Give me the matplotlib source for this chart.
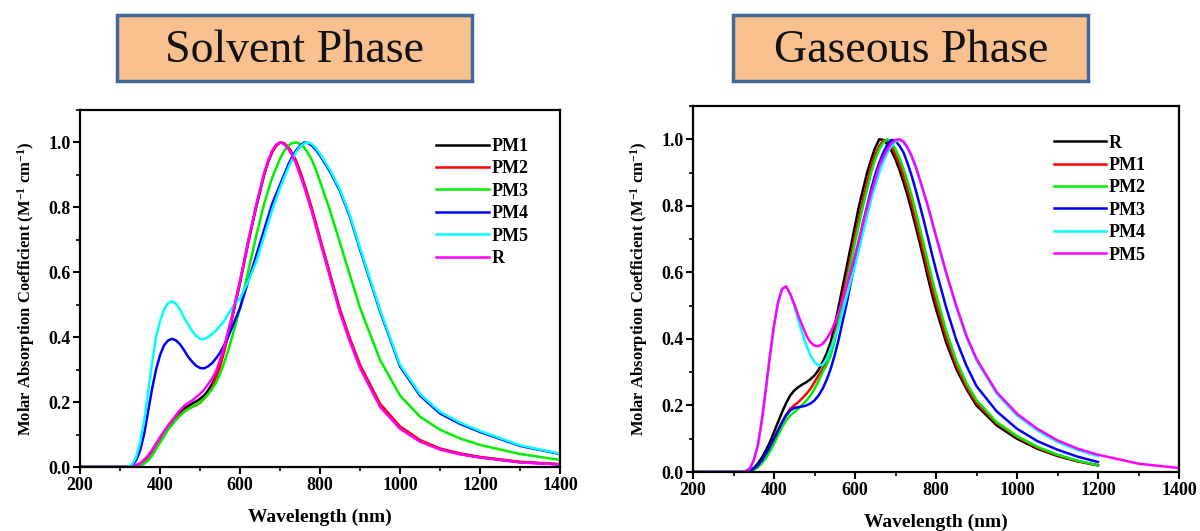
import matplotlib.pyplot as plt
from matplotlib.patches import Rectangle
from matplotlib.ticker import MultipleLocator

plt.rcParams["font.family"] = ["Liberation Serif", "DejaVu Serif"]
plt.rcParams["font.weight"] = "bold"
plt.rcParams["mathtext.fontset"] = "custom"
plt.rcParams["mathtext.rm"] = "Liberation Serif:bold"
plt.rcParams["mathtext.bf"] = "Liberation Serif:bold"
plt.rcParams["mathtext.default"] = "bf"

# wavelength grid (nm)
wl = [200, 300,
      320, 330, 340, 350, 360, 370, 380, 390, 400,
      410, 420, 430, 440, 450, 460, 470, 480, 490, 500,
      510, 520, 530, 540, 550, 560, 570, 580, 590, 600,
      610, 620, 630, 640, 650, 660, 670, 680, 690, 700,
      710, 720, 730, 740, 750, 760, 770, 780, 790, 800,
      825, 850, 875, 900, 950, 1000, 1050, 1100, 1150, 1200,
      1300, 1400]
wl_gas = wl[:-2]   # gaseous curves stop at 1200 nm (except PM5)

# ---- solvent phase ----
sol_pm1 = [0, 0,
           0, 0, 0.005, 0.01, 0.02, 0.033, 0.05, 0.07, 0.09,
           0.108, 0.125, 0.14, 0.155, 0.168, 0.18, 0.188, 0.195, 0.202, 0.21,
           0.22, 0.235, 0.255, 0.28, 0.315, 0.36, 0.41, 0.46, 0.515, 0.57,
           0.63, 0.69, 0.745, 0.80, 0.85, 0.90, 0.94, 0.97, 0.99, 1.0,
           0.997, 0.985, 0.965, 0.94, 0.907, 0.87, 0.83, 0.79, 0.745, 0.70,
           0.59, 0.48, 0.39, 0.31, 0.19, 0.12, 0.08, 0.055, 0.04, 0.03,
           0.015, 0.008]
sol_pm2 = [0, 0,
           0, 0, 0.004, 0.009, 0.018, 0.031, 0.048, 0.067, 0.088,
           0.105, 0.122, 0.137, 0.15, 0.162, 0.172, 0.18, 0.185, 0.19, 0.198,
           0.21, 0.225, 0.245, 0.275, 0.31, 0.355, 0.405, 0.457, 0.512, 0.568,
           0.628, 0.688, 0.744, 0.80, 0.85, 0.90, 0.94, 0.97, 0.99, 1.0,
           0.998, 0.987, 0.968, 0.944, 0.912, 0.875, 0.836, 0.795, 0.75, 0.705,
           0.595, 0.485, 0.395, 0.315, 0.195, 0.125, 0.083, 0.057, 0.042, 0.031,
           0.016, 0.009]
sol_pm3 = [0, 0,
           0, 0, 0.002, 0.005, 0.01, 0.02, 0.035, 0.055, 0.075,
           0.095, 0.115, 0.13, 0.145, 0.158, 0.17, 0.178, 0.185, 0.192, 0.2,
           0.21, 0.225, 0.24, 0.26, 0.287, 0.32, 0.358, 0.40, 0.445, 0.49,
           0.545, 0.60, 0.655, 0.71, 0.76, 0.81, 0.85, 0.89, 0.92, 0.95,
           0.973, 0.99, 0.998, 1.0, 0.996, 0.985, 0.967, 0.945, 0.915, 0.88,
           0.79, 0.69, 0.59, 0.49, 0.33, 0.22, 0.155, 0.115, 0.088, 0.068,
           0.04, 0.022]
sol_pm4 = [0, 0,
           0, 0.005, 0.02, 0.05, 0.10, 0.17, 0.24, 0.30, 0.345,
           0.375, 0.39, 0.395, 0.39, 0.378, 0.36, 0.34, 0.325, 0.312, 0.305,
           0.304, 0.31, 0.32, 0.335, 0.352, 0.375, 0.40, 0.43, 0.46, 0.49,
           0.53, 0.57, 0.61, 0.65, 0.69, 0.73, 0.77, 0.81, 0.84, 0.87,
           0.90, 0.93, 0.955, 0.975, 0.99, 1.0, 0.998, 0.99, 0.977, 0.96,
           0.91, 0.85, 0.77, 0.67, 0.48, 0.31, 0.22, 0.165, 0.133, 0.108,
           0.065, 0.04]
sol_pm5 = [0, 0,
           0, 0.008, 0.03, 0.075, 0.14, 0.23, 0.32, 0.40, 0.45,
           0.485, 0.505, 0.51, 0.503, 0.485, 0.46, 0.44, 0.42, 0.404, 0.395,
           0.394, 0.40, 0.41, 0.42, 0.435, 0.45, 0.47, 0.49, 0.505, 0.52,
           0.545, 0.57, 0.60, 0.63, 0.67, 0.71, 0.75, 0.79, 0.825, 0.86,
           0.89, 0.92, 0.947, 0.97, 0.987, 0.997, 1.0, 0.995, 0.982, 0.965,
           0.915, 0.855, 0.775, 0.675, 0.485, 0.315, 0.225, 0.17, 0.137, 0.111,
           0.067, 0.041]
sol_r = [0, 0,
         0, 0, 0.006, 0.011, 0.022, 0.035, 0.052, 0.072, 0.092,
         0.11, 0.128, 0.144, 0.16, 0.175, 0.188, 0.197, 0.205, 0.215, 0.225,
         0.238, 0.255, 0.272, 0.295, 0.33, 0.37, 0.417, 0.465, 0.52, 0.575,
         0.635, 0.695, 0.75, 0.805, 0.855, 0.905, 0.943, 0.975, 0.993, 1.0,
         0.995, 0.982, 0.961, 0.935, 0.901, 0.865, 0.825, 0.785, 0.74, 0.695,
         0.585, 0.475, 0.385, 0.305, 0.185, 0.118, 0.078, 0.054, 0.039, 0.029,
         0.014, 0.008]

# ---- gaseous phase ----
gas_r = [0, 0,
         0, 0.002, 0.005, 0.012, 0.025, 0.043, 0.065, 0.09, 0.12,
         0.15, 0.18, 0.207, 0.23, 0.245, 0.255, 0.263, 0.27, 0.279, 0.29,
         0.307, 0.33, 0.357, 0.39, 0.44, 0.50, 0.56, 0.62, 0.68, 0.74,
         0.80, 0.85, 0.90, 0.94, 0.975, 1.0, 0.998, 0.985, 0.965, 0.94,
         0.907, 0.87, 0.83, 0.785, 0.737, 0.688, 0.637, 0.585, 0.535, 0.49,
         0.39, 0.31, 0.25, 0.2, 0.14, 0.1, 0.07, 0.048, 0.032, 0.02]
gas_pm1 = [0, 0,
           0, 0.001, 0.003, 0.008, 0.018, 0.032, 0.05, 0.073, 0.10,
           0.125, 0.15, 0.172, 0.19, 0.2, 0.21, 0.222, 0.235, 0.25, 0.27,
           0.29, 0.31, 0.337, 0.37, 0.415, 0.47, 0.53, 0.59, 0.65, 0.71,
           0.765, 0.82, 0.87, 0.92, 0.955, 0.98, 0.997, 0.995, 0.98, 0.955,
           0.925, 0.89, 0.85, 0.805, 0.757, 0.708, 0.657, 0.606, 0.556, 0.51,
           0.405, 0.32, 0.257, 0.207, 0.146, 0.105, 0.073, 0.05, 0.033, 0.02]
gas_pm2 = [0, 0,
           0, 0, 0.002, 0.006, 0.014, 0.026, 0.042, 0.062, 0.085,
           0.11, 0.135, 0.155, 0.17, 0.18, 0.19, 0.202, 0.215, 0.23, 0.25,
           0.273, 0.30, 0.322, 0.35, 0.395, 0.45, 0.51, 0.57, 0.63, 0.69,
           0.745, 0.80, 0.85, 0.90, 0.94, 0.97, 0.99, 1.0, 0.99, 0.97,
           0.943, 0.91, 0.872, 0.83, 0.782, 0.733, 0.683, 0.632, 0.582, 0.535,
           0.425, 0.335, 0.268, 0.216, 0.15, 0.108, 0.076, 0.052, 0.034, 0.02]
gas_pm3 = [0, 0,
           0, 0.001, 0.003, 0.01, 0.02, 0.035, 0.055, 0.077, 0.10,
           0.125, 0.15, 0.17, 0.185, 0.192, 0.195, 0.197, 0.20, 0.206, 0.215,
           0.23, 0.25, 0.277, 0.31, 0.352, 0.40, 0.455, 0.51, 0.57, 0.63,
           0.69, 0.75, 0.80, 0.85, 0.895, 0.93, 0.96, 0.985, 0.998, 0.995,
           0.98, 0.96, 0.927, 0.89, 0.847, 0.802, 0.755, 0.705, 0.655, 0.607,
           0.495, 0.397, 0.32, 0.258, 0.182, 0.13, 0.093, 0.067, 0.046, 0.03]
gas_pm4 = [0, 0,
           0, 0.003, 0.01, 0.035, 0.08, 0.155, 0.25, 0.35, 0.44,
           0.51, 0.55, 0.558, 0.535, 0.5, 0.455, 0.415, 0.38, 0.35, 0.33,
           0.32, 0.322, 0.34, 0.37, 0.405, 0.44, 0.485, 0.53, 0.575, 0.62,
           0.67, 0.72, 0.77, 0.82, 0.86, 0.90, 0.932, 0.96, 0.98, 0.993,
           0.998, 0.99, 0.972, 0.946, 0.914, 0.876, 0.836, 0.796, 0.75, 0.705,
           0.595, 0.495, 0.405, 0.335, 0.235, 0.17, 0.125, 0.09, 0.066, 0.048]
gas_pm5 = [0, 0,
           0, 0.003, 0.01, 0.035, 0.08, 0.155, 0.25, 0.35, 0.44,
           0.51, 0.55, 0.558, 0.535, 0.505, 0.47, 0.44, 0.41, 0.39, 0.38,
           0.378, 0.385, 0.40, 0.42, 0.448, 0.48, 0.52, 0.56, 0.605, 0.65,
           0.70, 0.75, 0.795, 0.84, 0.88, 0.92, 0.947, 0.97, 0.988, 0.998,
           1.0, 0.993, 0.975, 0.95, 0.918, 0.88, 0.84, 0.80, 0.755, 0.71,
           0.60, 0.50, 0.41, 0.34, 0.24, 0.175, 0.13, 0.095, 0.07, 0.052,
           0.025, 0.012]

colors = {"black": "#000000", "red": "#ff0000", "green": "#00ee00",
          "blue": "#0000ff", "cyan": "#00ffff", "magenta": "#ff00ff"}

fig = plt.figure(figsize=(12, 5.31), dpi=100)
ax1 = fig.add_axes([0.0667, 0.1205, 0.40, 0.6723])
ax2 = fig.add_axes([0.5775, 0.1111, 0.405, 0.6893])

sol_series = [("PM1", sol_pm1, "black"), ("PM2", sol_pm2, "red"), ("PM3", sol_pm3, "green"),
              ("PM4", sol_pm4, "blue"), ("PM5", sol_pm5, "cyan"), ("R", sol_r, "magenta")]
for name, vals, c in sol_series:
    ax1.plot(wl, vals, color=colors[c], lw=1.8, label=name)

gas_series = [("R", gas_r, "black"), ("PM1", gas_pm1, "red"), ("PM2", gas_pm2, "green"),
              ("PM3", gas_pm3, "blue"), ("PM4", gas_pm4, "cyan")]
for name, vals, c in gas_series:
    ax2.plot(wl_gas, vals, color=colors[c], lw=1.8, label=name)
ax2.plot(wl, gas_pm5, color=colors["magenta"], lw=1.8, label="PM5")

for ax in (ax1, ax2):
    ax.set_xlim(200, 1400)
    ax.set_ylim(0, 1.1)
    ax.xaxis.set_major_locator(MultipleLocator(200))
    ax.xaxis.set_minor_locator(MultipleLocator(100))
    ax.yaxis.set_major_locator(MultipleLocator(0.2))
    ax.yaxis.set_minor_locator(MultipleLocator(0.1))
    ax.yaxis.set_major_formatter(plt.FormatStrFormatter("%.1f"))
    ax.tick_params(which="major", direction="out", length=5, width=1.5, labelsize=13, pad=2)
    ax.tick_params(which="minor", direction="out", length=3, width=1.2)
    for s in ax.spines.values():
        s.set_linewidth(1.6)
    ax.set_xlabel("Wavelength (nm)", fontsize=14, fontweight="bold", labelpad=11)
    ax.set_ylabel("Molar Absorption Coefficient (M$^{-1}$ cm$^{-1}$)",
                  fontsize=12, fontweight="bold", labelpad=8)
    for lab in ax.get_xticklabels() + ax.get_yticklabels():
        lab.set_fontweight("bold")
    ax.legend(loc="upper left", bbox_to_anchor=(0.742, 0.922), frameon=False,
              handlelength=2.9, handletextpad=0.15, labelspacing=0.3,
              borderpad=0, borderaxespad=0, prop={"weight": "bold", "size": 13})

# title boxes
for x0, title in [(0.0975, "Solvent Phase"), (0.611, "Gaseous Phase")]:
    fig.patches.append(Rectangle((x0, 0.8475), 0.296, 0.1243, transform=fig.transFigure,
                                 facecolor="#f9c08f", edgecolor="#41679a", linewidth=2.5))
    fig.text(x0 + 0.148, 0.905, title, ha="center", va="center", fontsize=33,
             fontweight="normal", color="#111111")

fig.savefig("out.png", dpi=100)
